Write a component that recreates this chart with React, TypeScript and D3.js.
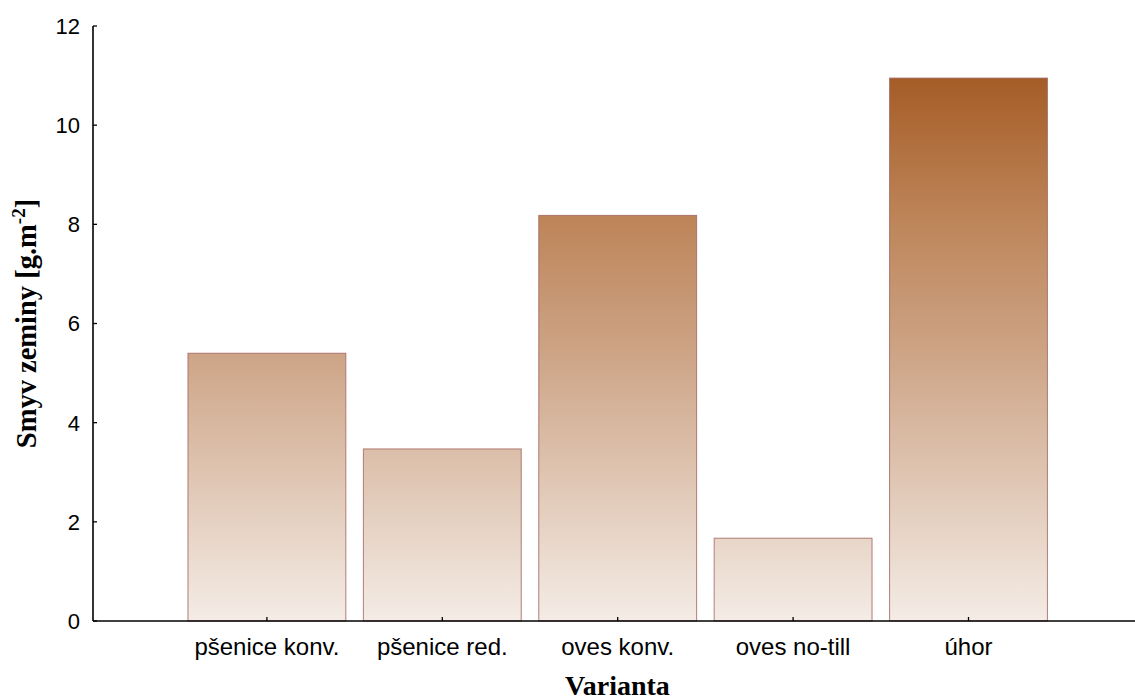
import React from "react";
import * as d3 from "d3";

const categories = ["pšenice konv.", "pšenice red.", "oves konv.", "oves no-till", "úhor"];
const values = [5.4, 3.47, 8.18, 1.67, 10.95];
const yTicks = [0, 2, 4, 6, 8, 10, 12];

const W = 1135;
const H = 700;
const axisX = 93;
const plotTop = 26;
const plotBottom = 621;

export default function App() {
  const y = d3.scaleLinear().domain([0, 12]).range([plotBottom, plotTop]);
  const x = d3
    .scaleBand<string>()
    .domain(categories)
    .range([179.2, 1056.2])
    .paddingInner(0.1)
    .paddingOuter(0.05);

  return (
    <svg
      width={W}
      height={H}
      style={{ position: "absolute", left: 0, top: 0, display: "block" }}
    >
      <defs>
        <linearGradient
          id="barGrad"
          gradientUnits="userSpaceOnUse"
          x1="0"
          x2="0"
          y1={y(0)}
          y2={y(12)}
        >
          <stop offset="0" stopColor="#F4ECE6" />
          <stop offset="0.45" stopColor="#CDA486" />
          <stop offset="0.68" stopColor="#BD8458" />
          <stop offset="1" stopColor="#9C4E14" />
        </linearGradient>
      </defs>
      <rect x={0} y={0} width={W} height={H} fill="#fff" />
      {categories.map((c, i) => (
        <rect
          key={c}
          x={x(c)!}
          y={y(values[i])}
          width={x.bandwidth()}
          height={y(0) - y(values[i])}
          fill="url(#barGrad)"
          stroke="#A56A64"
          strokeWidth={1}
          strokeOpacity={0.85}
        />
      ))}
      {/* y axis */}
      <line x1={axisX} x2={axisX} y1={plotTop} y2={plotBottom} stroke="#000" strokeWidth={1.6} />
      {yTicks.map((t) => (
        <g key={t}>
          <line x1={axisX} x2={axisX + 4} y1={y(t)} y2={y(t)} stroke="#000" strokeWidth={1.3} />
          <text
            x={80}
            y={y(t)}
            dy="0.36em"
            textAnchor="end"
            fontFamily="Liberation Sans, Arial, sans-serif"
            fontSize={22}
            fill="#000"
          >
            {t}
          </text>
        </g>
      ))}
      {/* x axis */}
      <line x1={axisX} x2={W} y1={plotBottom} y2={plotBottom} stroke="#000" strokeWidth={1.6} />
      {categories.map((c) => {
        const cx = x(c)! + x.bandwidth() / 2;
        return (
          <g key={c}>
            <line x1={cx} x2={cx} y1={plotBottom} y2={plotBottom - 4} stroke="#000" strokeWidth={1.3} />
            <text
              x={cx}
              y={655}
              textAnchor="middle"
              fontFamily="Liberation Sans, Arial, sans-serif"
              fontSize={24}
              fill="#000"
            >
              {c}
            </text>
          </g>
        );
      })}
      <text
        x={617.5}
        y={695}
        textAnchor="middle"
        fontFamily="Liberation Serif, Times New Roman, serif"
        fontWeight="bold"
        fontSize={28}
        fill="#000"
      >
        Varianta
      </text>
      <text
        transform={`translate(36, ${(plotTop + plotBottom) / 2}) rotate(-90)`}
        textAnchor="middle"
        fontFamily="Liberation Serif, Times New Roman, serif"
        fontWeight="bold"
        fontSize={28.5}
        fill="#000"
      >
        Smyv zeminy [g.m
        <tspan dy={-11} fontSize={19}>-2</tspan>
        <tspan dy={11}>]</tspan>
      </text>
    </svg>
  );
}
